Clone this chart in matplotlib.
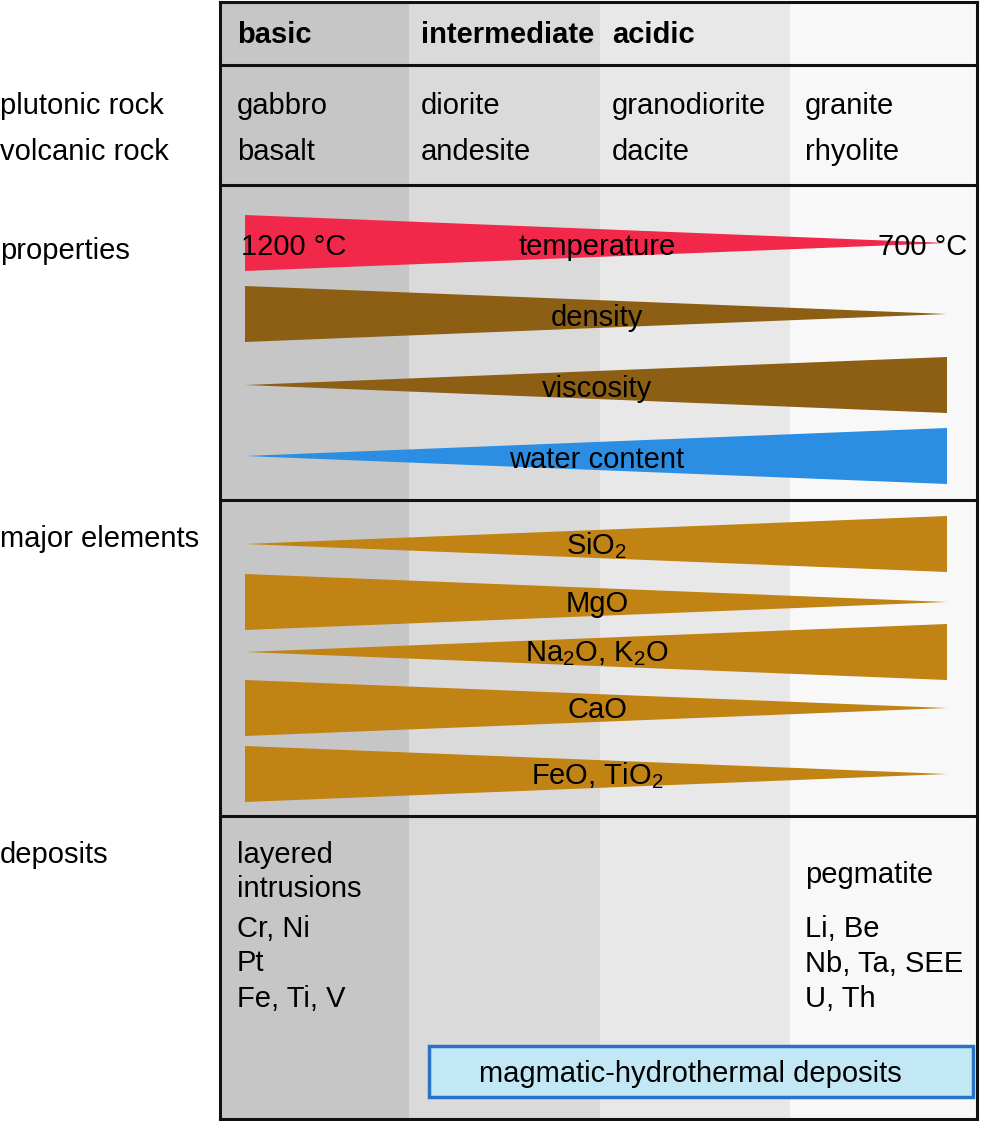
import matplotlib
matplotlib.use("Agg")
import matplotlib.pyplot as plt
from matplotlib.patches import Polygon, Rectangle

plt.rcParams["font.family"] = ["Liberation Sans", "DejaVu Sans"]
plt.rcParams["mathtext.fontset"] = "custom"
plt.rcParams["mathtext.rm"] = "Liberation Sans"
plt.rcParams["mathtext.it"] = "Liberation Sans"

# ---- data ----
groups = ["basic", "intermediate", "acidic", ""]
plutonic = ["gabbro", "diorite", "granodiorite", "granite"]
volcanic = ["basalt", "andesite", "dacite", "rhyolite"]
row_labels = ["plutonic rock", "volcanic rock", "properties", "major elements", "deposits"]

prop_labels = ["temperature", "density", "viscosity", "water content"]
prop_trend = ["down", "down", "up", "up"]          # down = wide at basic end
prop_colors = ["#f2284b", "#8c5f15", "#8c5f15", "#2b8ee3"]

major_labels = [r"SiO$_\mathrm{2}$", "MgO", r"Na$_\mathrm{2}$O, K$_\mathrm{2}$O",
                "CaO", r"FeO, TiO$_\mathrm{2}$"]
major_trend = ["up", "down", "up", "down", "down"]
major_color = "#c18313"

basic_deposits = ["layered", "intrusions", "Cr, Ni", "Pt", "Fe, Ti, V"]
acid_deposits = ["pegmatite", "Li, Be", "Nb, Ta, SEE", "U, Th"]
hydro_label = "magmatic-hydrothermal deposits"
temp_range = ["1200 °C", "700 °C"]

# ---- layout (pixels) ----
W, H = 983, 1121
col_x = [220, 409, 600, 790, 977]
col_text_x = [237, 421, 612, 805]
col_fill = ["#c6c6c6", "#dadada", "#e8e8e8", "#f8f8f8"]
row_y = [2, 65, 185, 500, 816, 1119]
wx0, wx1, half = 245, 947, 28
prop_y = [243, 314, 385, 456]
major_y = [544, 602, 652, 708, 774]
fs = 21
dy = 2

fig = plt.figure(figsize=(W / 100, H / 100), dpi=100)
ax = fig.add_axes([0, 0, 1, 1])
ax.set_xlim(0, W)
ax.set_ylim(H, 0)
ax.axis("off")

for i, c in enumerate(col_fill):
    ax.add_patch(Rectangle((col_x[i], row_y[0]), col_x[i + 1] - col_x[i],
                           row_y[-1] - row_y[0], fc=c, ec="none", zorder=0))
for y in row_y:
    ax.plot([col_x[0], col_x[-1]], [y, y], color="#111", lw=2.2, zorder=3,
            solid_capstyle="projecting")
for x in (col_x[0], col_x[-1]):
    ax.plot([x, x], [row_y[0], row_y[-1]], color="#111", lw=2.2, zorder=3,
            solid_capstyle="projecting")

# header & rock names
for i in range(4):
    tx = col_text_x[i]
    ax.text(tx, 33 + dy, groups[i], fontsize=fs, fontweight="bold", va="center")
    ax.text(tx, 104 + dy, plutonic[i], fontsize=fs, va="center")
    ax.text(tx, 150 + dy, volcanic[i], fontsize=fs, va="center")

# row labels
for lab, y in zip(row_labels, [104, 150, 249, 537, 853]):
    ax.text(0, y + dy, lab, fontsize=fs, va="center")


def wedge(yc, trend, color):
    if trend == "down":
        pts = [(wx0, yc - half), (wx0, yc + half), (wx1, yc)]
    else:
        pts = [(wx0, yc), (wx1, yc - half), (wx1, yc + half)]
    ax.add_patch(Polygon(pts, closed=True, fc=color, ec="none", zorder=1))


for lab, tr, c, y in zip(prop_labels, prop_trend, prop_colors, prop_y):
    wedge(y, tr, c)
    ax.text(597, y + 2 + dy, lab, fontsize=fs, ha="center", va="center", zorder=4)
ax.text(241, 245 + dy, temp_range[0], fontsize=fs, va="center", zorder=4)
ax.text(967, 245 + dy, temp_range[1], fontsize=fs, va="center", ha="right", zorder=4)

for lab, tr, y in zip(major_labels, major_trend, major_y):
    wedge(y, tr, major_color)
    ax.text(597, y + 2, lab, fontsize=fs, ha="center", va="center", zorder=4)

# deposits
for lab, y in zip(basic_deposits, [853, 887, 927, 961, 997]):
    ax.text(237, y + dy, lab, fontsize=fs, va="center")
for lab, y in zip(acid_deposits, [873, 927, 962, 997]):
    ax.text(805, y + dy, lab, fontsize=fs, va="center")

ax.add_patch(Rectangle((429, 1046), 544, 51, fc="#c2e8f5", ec="#2a72c6",
                       lw=2.5, zorder=2))
ax.text(690, 1072 + dy, hydro_label, fontsize=fs, ha="center", va="center", zorder=4)

fig.savefig("out.png", dpi=100)
